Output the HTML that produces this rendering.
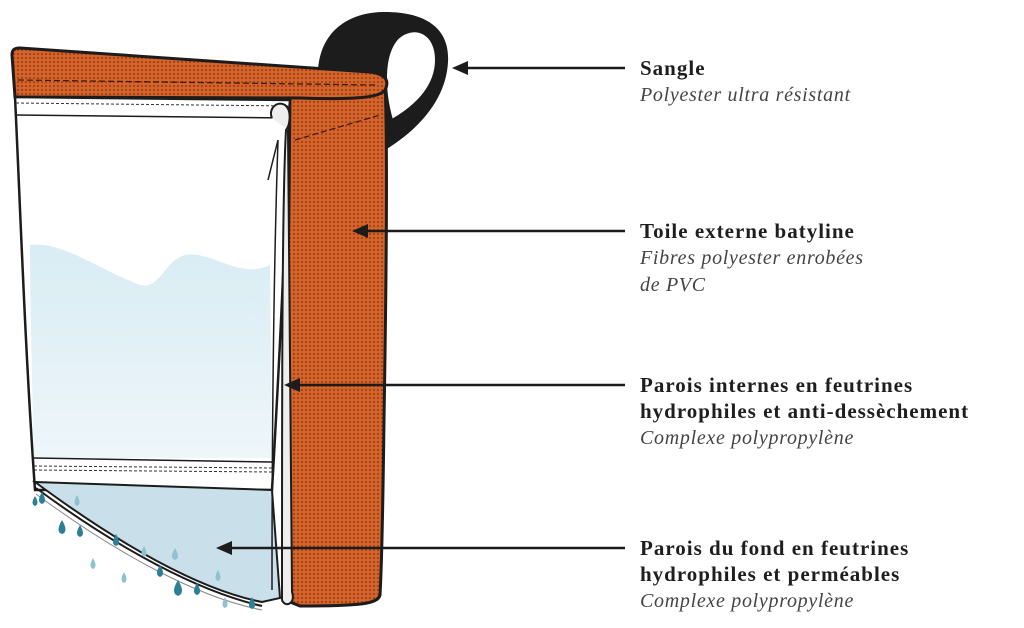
<!DOCTYPE html>
<html><head><meta charset="utf-8"><style>
html,body{margin:0;padding:0;background:#fff;width:1024px;height:628px;overflow:hidden}
.t{position:absolute;left:640px;font-family:"Liberation Serif",serif;font-size:21px;color:#1e1e1e;line-height:26px;white-space:nowrap}
.b{font-weight:bold;letter-spacing:1px}
.i{font-style:italic;color:#444;font-size:20px;letter-spacing:0.7px}
</style></head><body>
<svg width="1024" height="628" style="position:absolute;left:0;top:0">
<defs>
<pattern id="dots" width="4" height="4" patternUnits="userSpaceOnUse">
<rect width="4" height="4" fill="#d2642c"/><rect x="1" y="1" width="2" height="2" fill="#a84418"/>
</pattern>
<linearGradient id="w" x1="0" y1="0" x2="0" y2="1"><stop offset="0" stop-color="#d9ecf4"/><stop offset="1" stop-color="#eef6fa"/></linearGradient>
</defs>
<path d="M318,80 C316,35 345,12 385,12 C428,12 450,30 448,62 C446,100 418,130 385,150 L380,80 Z" fill="#1c1c1c"/>
<path d="M392,120 C384,92 382,55 398,38 C414,24 436,32 436,60 C436,85 418,105 392,120Z" fill="#fff" stroke="#1c1c1c" stroke-width="2"/>
<path d="M290,90 L385,82 C388,150 386,300 384,420 C383,500 382,560 380,595 C378,604 360,606 300,606 L285,600 Z" fill="url(#dots)" stroke="#1c1c1c" stroke-width="3"/>
<path d="M12,55 C12,50 14,48 20,48 L370,72 C385,74 390,80 385,90 C380,97 360,100 300,98 L15,97 Z" fill="url(#dots)" stroke="#1c1c1c" stroke-width="3"/>
<path d="M18,80 L375,85" stroke="#3a1a0a" stroke-width="1.2" stroke-dasharray="6,3" fill="none"/>
<path d="M295,140 L380,115" stroke="#3a1a0a" stroke-width="1.2" stroke-dasharray="6,3" fill="none"/>
<path d="M15,97 L290,100 L288,130 C285,250 280,350 272,490 L35,490 C25,350 20,200 15,97 Z" fill="#fff" stroke="#1c1c1c" stroke-width="2.5"/>
<path d="M16,115 L290,118" stroke="#1c1c1c" stroke-width="1.5"/>
<path d="M16,103 L290,106" stroke="#333" stroke-width="1" stroke-dasharray="3,2"/>
<path d="M30,245 C60,240 100,270 140,285 C160,290 165,260 185,255 C210,250 240,280 270,265 L272,458 L34,458 C32,380 30,300 30,245 Z" fill="url(#w)"/>
<path d="M34,458 L272,462" stroke="#1c1c1c" stroke-width="1.5"/>
<path d="M34,466 L272,468 M34,470 L272,472" stroke="#333" stroke-width="1" stroke-dasharray="3,2"/>
<path d="M35,482 L272,490 L280,598 L262,602 C200,590 120,545 35,482 Z" fill="#c9e0ea" stroke="#1c1c1c" stroke-width="2"/>
<path d="M36,488 C120,550 200,592 262,606" stroke="#1c1c1c" stroke-width="2" fill="none"/>
<path d="M36,494 C120,556 200,598 262,610" stroke="#888" stroke-width="1" fill="none"/>
<path d="M272,118 C268,110 276,100 285,105 C292,110 290,125 286,130 C282,200 282,400 282,600 C285,608 296,604 292,592 L288,130" fill="#eee" stroke="#1c1c1c" stroke-width="2"/>
<path d="M278,140 C274,260 272,420 272,590 M268,180 L278,140" stroke="#1c1c1c" stroke-width="1.5" fill="none"/>
<g fill="#2d7f97">
<path d="M42,492 q-6,10 0,12 q6,-2 0,-12z"/><path d="M62,520 q-7,12 0,14 q7,-2 0,-14z"/><path d="M80,525 q-6,10 0,12 q6,-2 0,-12z"/><path d="M116,534 q-6,10 0,12 q6,-2 0,-12z"/><path d="M160,565 q-6,10 0,12 q6,-2 0,-12z"/><path d="M178,580 q-8,13 0,16 q8,-3 0,-16z"/><path d="M197,583 q-6,10 0,12 q6,-2 0,-12z"/><path d="M252,597 q-6,10 0,12 q6,-2 0,-12z"/><path d="M35,496 q-5,8 0,10 q5,-2 0,-10z"/>
</g>
<g fill="#8fc1cf">
<path d="M93,558 q-5,9 0,11 q5,-2 0,-11z"/><path d="M124,572 q-5,9 0,11 q5,-2 0,-11z"/><path d="M144,546 q-5,9 0,11 q5,-2 0,-11z"/><path d="M175,548 q-6,10 0,12 q6,-2 0,-12z"/><path d="M225,597 q-5,9 0,11 q5,-2 0,-11z"/><path d="M218,570 q-5,9 0,11 q5,-2 0,-11z"/><path d="M77,495 q-5,9 0,11 q5,-2 0,-11z"/>
</g>
<g stroke="#1c1c1c" stroke-width="2.5">
<line x1="466" y1="68" x2="625" y2="68"/><line x1="366" y1="231" x2="625" y2="231"/><line x1="298" y1="385" x2="625" y2="385"/><line x1="230" y1="548" x2="625" y2="548"/>
</g>
<g fill="#1c1c1c">
<path d="M452,68 L468,61 L468,75Z"/><path d="M352,231 L368,224 L368,238Z"/><path d="M284,385 L300,378 L300,392Z"/><path d="M216,548 L232,541 L232,555Z"/>
</g>
</svg>
<div class="t" style="top:55px"><span class="b">Sangle</span><br><span class="i">Polyester ultra résistant</span></div>
<div class="t" style="top:218px"><span class="b">Toile externe batyline</span><br><span class="i">Fibres polyester enrobées<br>de PVC</span></div>
<div class="t" style="top:372px"><span class="b">Parois internes en feutrines<br>hydrophiles et anti-dessèchement</span><br><span class="i">Complexe polypropylène</span></div>
<div class="t" style="top:535px"><span class="b">Parois du fond en feutrines<br>hydrophiles et perméables</span><br><span class="i">Complexe polypropylène</span></div>
</body></html>
